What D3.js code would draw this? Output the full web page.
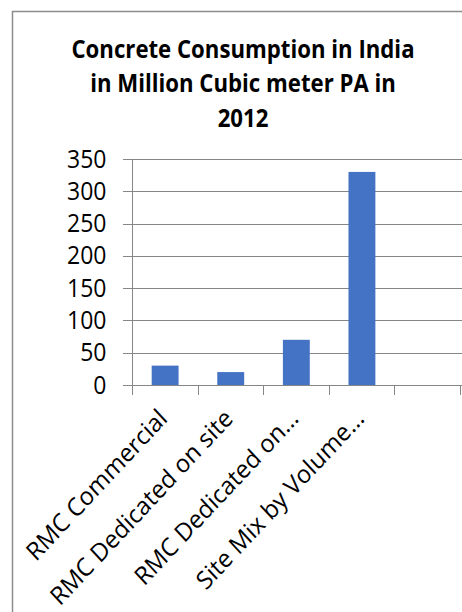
<!DOCTYPE html>
<html>
<head>
<meta charset="utf-8">
<script src="https://cdn.jsdelivr.net/npm/d3@7"></script>
<style>
  html, body { margin: 0; padding: 0; background: #fff; }
  svg { display: block; }
  text { font-family: "Open Sans", "Noto Sans", sans-serif; }
</style>
</head>
<body>
<svg id="chart" width="462" height="612"></svg>
<script>
// ---- data ----
const titleLines = ["Concrete Consumption in India", "in Million Cubic meter PA in", "2012"];
const categories = ["RMC Commercial", "RMC Dedicated on site", "RMC Dedicated on…", "Site Mix by Volume…", ""];
const values = [30, 20, 70, 330, null];
const yTicks = [0, 50, 100, 150, 200, 250, 300, 350];
const yDomain = [0, 350];

// ---- layout ----
const W = 462, H = 612;
const plot = { left: 132, right: 460, top: 159, bottom: 385 };
const stretch = 1.12;
const svg = d3.select("#chart");

svg.append("rect").attr("width", W).attr("height", H).attr("fill", "#fff");
// chart frame (only left and top edges visible)
svg.append("path")
  .attr("d", `M12.5,${H} V11.5 H${W}`)
  .attr("fill", "none").attr("stroke", "#8c8c8c").attr("stroke-width", 1.5);

// title
const titleBase = [58, 92, 127];
svg.append("g").selectAll("text").data(titleLines).join("text")
  .attr("transform", (d, i) => `translate(243,${titleBase[i]}) scale(1,${stretch})`)
  .attr("text-anchor", "middle")
  .attr("font-weight", "bold")
  .attr("font-size", 22.2)
  .attr("fill", "#000")
  .text(d => d);

const x = d3.scaleBand().domain(categories).range([plot.left, plot.right]).paddingInner(0).paddingOuter(0);
const y = d3.scaleLinear().domain(yDomain).range([plot.bottom, plot.top]);
const bw = x.bandwidth();

// gridlines
const grid = svg.append("g");
grid.selectAll("line").data(yTicks).join("line")
  .attr("x1", plot.left - 9).attr("x2", W)
  .attr("y1", d => Math.round(y(d)) + 0.5).attr("y2", d => Math.round(y(d)) + 0.5)
  .attr("stroke", "#868686").attr("stroke-width", 1);

// y axis
const yAxis = d3.axisLeft(y).tickValues(yTicks).tickSize(0).tickPadding(0);
const yg = svg.append("g").attr("transform", `translate(${plot.left + 0.5},0)`).call(yAxis);
yg.select(".domain").attr("stroke", "#868686").attr("d", `M0,${plot.top}V${plot.bottom + 10}`);
yg.selectAll(".tick text")
  .attr("x", null).attr("dy", null)
  .attr("transform", `translate(${106 - plot.left},8) scale(1,${stretch})`)
  .attr("font-size", 23)
  .attr("font-family", "'Open Sans', sans-serif")
  .attr("fill", "#000");

// x axis boundary ticks
const bounds = categories.map(c => x(c)).concat([x(categories[categories.length - 1]) + bw]);
svg.append("g").selectAll("line").data(bounds).join("line")
  .attr("x1", d => Math.round(d) + 0.5).attr("x2", d => Math.round(d) + 0.5)
  .attr("y1", plot.bottom).attr("y2", plot.bottom + 10)
  .attr("stroke", "#868686").attr("stroke-width", 1);

// bars
svg.append("g").selectAll("rect").data(categories.map((c, i) => ({ c, v: values[i] })).filter(d => d.v != null))
  .join("rect")
  .attr("x", d => x(d.c) + bw * 0.30)
  .attr("width", bw * 0.41)
  .attr("y", d => y(d.v))
  .attr("height", d => y(0) - y(d.v))
  .attr("fill", "#4472C4");

// x labels rotated
svg.append("g").selectAll("text").data(categories.filter(c => c !== ""))
  .join("text")
  .attr("transform", d => `translate(${x(d) + bw / 2 + 4},${plot.bottom + 35}) scale(1,1.07) rotate(-45)`)
  .attr("text-anchor", "end")
  .attr("font-size", 23.5)
  .attr("fill", "#000")
  .text(d => d);
</script>
</body>
</html>
